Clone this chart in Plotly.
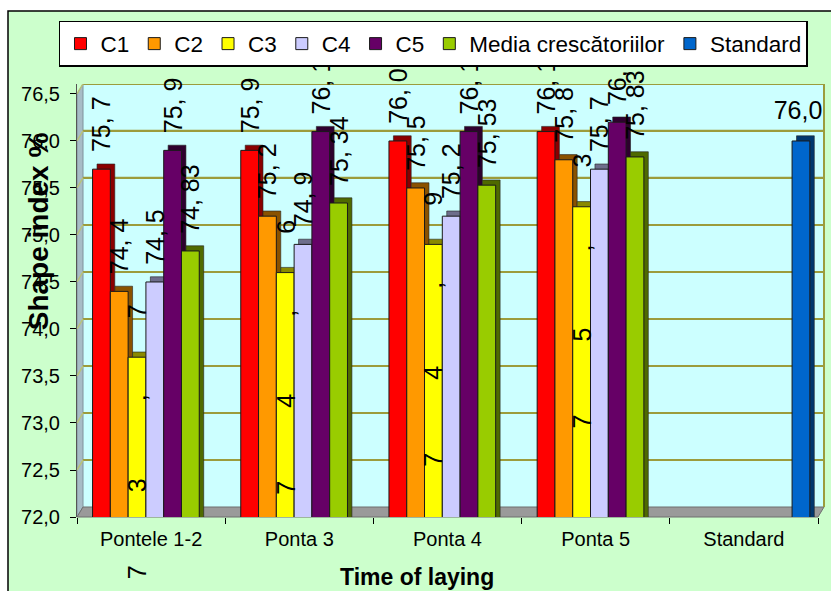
import plotly.graph_objects as go

# ---- data -------------------------------------------------------------
categories = ["Pontele 1-2", "Ponta 3", "Ponta 4", "Ponta 5", "Standard"]
series_names = ["C1", "C2", "C3", "C4", "C5", "Media crescătoriilor", "Standard"]

c1 = [75.7, 75.9, 76.0, 76.1, None]
c2 = [74.4, 75.2, 75.5, 75.8, None]
c3 = [73.7, 74.6, 74.9, 75.3, None]
c4 = [74.5, 74.9, 75.2, 75.7, None]
c5 = [75.9, 76.1, 76.1, 76.2, None]
media = [74.83, 75.34, 75.53, 75.83, None]
standard = [None, None, None, None, 76.0]

y_ticks = [72.0, 72.5, 73.0, 73.5, 74.0, 74.5, 75.0, 75.5, 76.0, 76.5]
label_decimals = [1, 1, 1, 1, 1, 2, 1]

# ---- style ------------------------------------------------------------
FONT = "Liberation Sans, Arial, sans-serif"
face_colors = ["#FF0000", "#FF9900", "#FFFF00", "#CCCCFF", "#660066", "#99CC00", "#0066CC"]
side_colors = ["#8A0000", "#8A5200", "#8A8A00", "#6E6E8C", "#2E002E", "#4F6A00", "#00376E"]
GRID = "#9C9C3C"

SLOT = 0.12       # width of one bar slot (category units)
START = -0.395    # left edge of the first slot relative to the category centre
DX = 0.03         # depth of the 3-D side, category units
DY = 0.055        # depth of the 3-D top, y units
LIFT = 0.15       # gap between bar top and its value label, y units

series_values = [c1, c2, c3, c4, c5, media, standard]


def fmt(v, dec, sep):
    return None if v is None else f"{v:.{dec}f}".replace(".", sep)


fig = go.Figure()

# depth faces (drawn first, peeking out to the upper right of each bar)
for k, vals in enumerate(series_values):
    fig.add_trace(go.Bar(
        x=categories, y=vals, base=DY,
        offset=START + k * SLOT + DX, width=SLOT,
        marker=dict(color=side_colors[k], line=dict(color="#222222", width=0.6)),
        showlegend=False, hoverinfo="skip",
    ))

# front faces
for k, (name, vals) in enumerate(zip(series_names, series_values)):
    fig.add_trace(go.Bar(
        name=name, x=categories, y=vals,
        offset=START + k * SLOT, width=SLOT,
        marker=dict(color=face_colors[k], line=dict(color="#1a1a1a", width=1)),
    ))

# value labels carried by transparent, slightly lifted bars
for k, (name, vals) in enumerate(zip(series_names, series_values)):
    if name == "C3":
        continue
    horizontal = name == "Standard"
    fig.add_trace(go.Bar(
        x=categories, y=vals, base=LIFT,
        offset=START + k * SLOT - (0.02 if horizontal else 0), width=SLOT,
        marker=dict(color="rgba(0,0,0,0)", line=dict(width=0)),
        text=[fmt(v, label_decimals[k], "," if horizontal else ", ") for v in vals],
        textposition="outside", textangle=0 if horizontal else -90,
        constraintext="none", cliponaxis=False,
        textfont=dict(family=FONT, size=25, color="black"),
        showlegend=False, hoverinfo="skip",
    ))

# C3 labels break apart into single rotated characters
annotations = []
k3 = series_names.index("C3")
for i, v in enumerate(c3):
    if v is None:
        continue
    xc = i + START + k3 * SLOT + SLOT / 2
    for j, ch in enumerate(fmt(v, label_decimals[k3], ",")):
        annotations.append(dict(
            x=xc, y=v, xref="x", yref="y", text=ch, textangle=-90,
            showarrow=False, yanchor="middle", yshift=-(215 - 87 * j),
            font=dict(family=FONT, size=25, color="black")))

# axis titles
annotations.append(dict(
    x=-0.0526, y=0.66, xref="paper", yref="paper", text="<b>Shape index %</b>",
    textangle=-90, showarrow=False, xanchor="center", yanchor="middle",
    font=dict(family=FONT, size=28, color="black")))
annotations.append(dict(
    x=0.459, y=-0.138, xref="paper", yref="paper", text="<b>Time of laying</b>",
    showarrow=False, xanchor="center", yanchor="middle",
    font=dict(family=FONT, size=23, color="black")))

# ---- 3-D box: outer frame, walls, floor, grid --------------------------
W, H = 741, 433     # plot area in px
D = 6               # wall depth, px (x)
DH = 10             # wall depth, px (y)
px = dict(xref="paper", yref="paper", xsizemode="pixel", ysizemode="pixel",
          xanchor=0, yanchor=0, layer="below")
shapes = [
    # chart area with black frame
    dict(type="rect", x0=-69, x1=770, y0=-90, y1=506,
         fillcolor="#CCFFCC", line=dict(color="black", width=1.5), **px),
    # back wall
    dict(type="rect", x0=D, x1=W + D, y0=DH, y1=H,
         fillcolor="#CCFFFF", line=dict(width=0), **px),
    # left wall
    dict(type="path", path=f"M0,0 L0,{H - DH} L{D},{H} L{D},{DH} Z",
         fillcolor="#A7BCC6", line=dict(color="#7F929C", width=1), **px),
    # floor
    dict(type="path", path=f"M0,0 L{D},{DH} L{W + D},{DH} L{W},0 Z",
         fillcolor="#9A9A9A", line=dict(color="#6E6E6E", width=1), **px),
    # right edge of back wall
    dict(type="line", x0=W + D, x1=W + D, y0=DH, y1=H,
         line=dict(color=GRID, width=2), **px),
]
for t in y_ticks[1:]:
    common = dict(xref="paper", yref="y", xsizemode="pixel", ysizemode="pixel",
                  xanchor=0, yanchor=t, layer="below")
    shapes.append(dict(type="line", x0=D, x1=W + D, y0=DH, y1=DH,
                       line=dict(color=GRID, width=2.2), **common))
    shapes.append(dict(type="line", x0=0, x1=D, y0=0, y1=DH,
                       line=dict(color="#B8C27A", width=1.5), **common))

fig.update_layout(
    width=831, height=591,
    margin=dict(l=77, r=13, t=84, b=74),
    paper_bgcolor="white", plot_bgcolor="rgba(0,0,0,0)",
    separators=",.",
    barmode="overlay",
    font=dict(family=FONT, color="black"),
    shapes=shapes, annotations=annotations,
    showlegend=True,
    legend=dict(
        orientation="h", x=-0.0243, y=1.1455, xanchor="left", yanchor="top",
        bgcolor="white", bordercolor="black", borderwidth=1.5,
        font=dict(family=FONT, size=22.5, color="black"),
        itemwidth=30, tracegroupgap=0,
    ),
    xaxis=dict(
        type="category", range=[-0.5, 4.5], categoryorder="array", categoryarray=categories,
        showgrid=False, zeroline=False, showline=False,
        ticks="outside", ticklen=6, tickcolor="black", tickson="boundaries",
        ticklabelstandoff=8,
        tickfont=dict(family=FONT, size=20, color="black"),
    ),
    yaxis=dict(
        range=[72, 76.606], tickvals=y_ticks, tickformat=".1f",
        showgrid=False, zeroline=False, showline=True, linecolor="#555555", linewidth=1,
        ticks="outside", ticklen=6, tickcolor="black", ticklabelstandoff=6,
        tickfont=dict(family=FONT, size=20, color="black"),
    ),
)

fig.write_html("out.html")
